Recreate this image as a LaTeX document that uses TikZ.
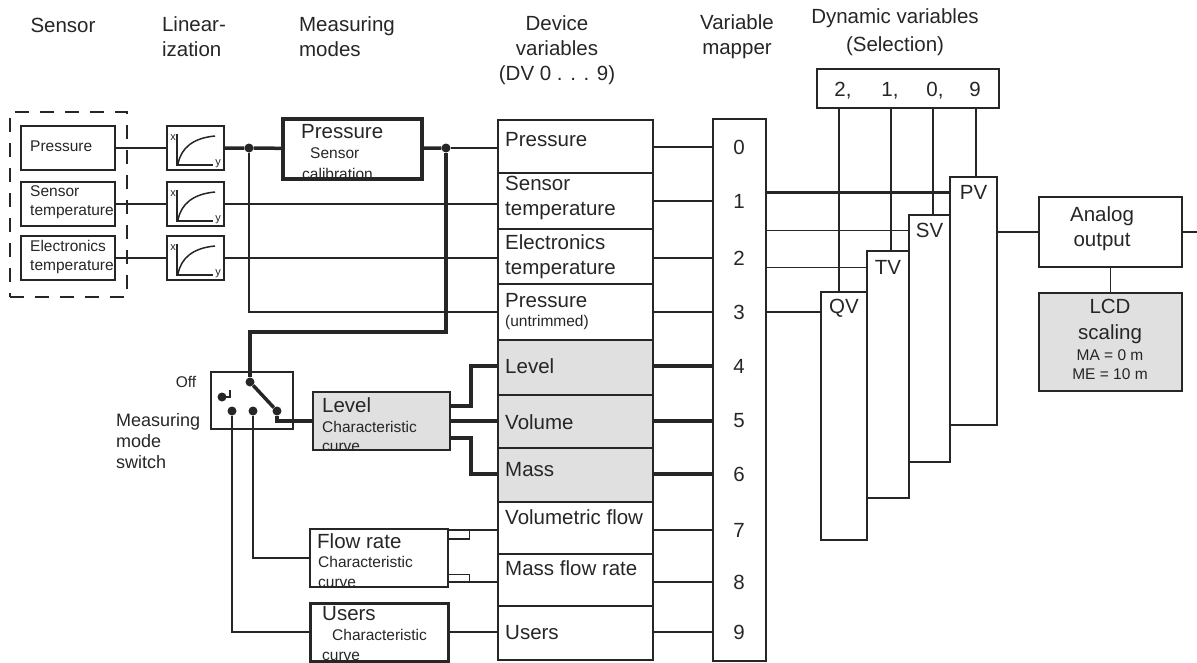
\documentclass[tikz,border=0pt]{standalone}
\usepackage{fontspec}
\setmainfont{Liberation Sans}
\usetikzlibrary{calc}
\definecolor{ink}{HTML}{262626}
\definecolor{shade}{HTML}{E0E0E0}
\begin{document}
\begin{tikzpicture}[x=1pt, y=-1pt,
    every node/.style={text=ink},
    box/.style={draw=ink, line width=1.5pt, rectangle, inner sep=0pt},
    gbox/.style={box, fill=shade},
    big/.style={font=\fontsize{20.5}{25}\selectfont, inner sep=0pt},
    mid/.style={font=\fontsize{18}{21}\selectfont, inner sep=0pt},
    small/.style={font=\fontsize{15.5}{19}\selectfont, inner sep=0pt},
    tiny/.style={font=\fontsize{11}{11}\selectfont, inner sep=0pt},
    wire/.style={draw=ink, line width=1.5pt},
    bus/.style={draw=ink, line width=3.5pt},
    dot/.style={circle, fill=ink, inner sep=0pt, minimum size=9pt},
    lin/.style={box, minimum width=57, minimum height=44, path picture={
        \coordinate (pp) at (path picture bounding box.north west);
        \draw[line width=1.5pt, ink] ($(pp)+(10pt,-8pt)$) |- ($(pp)+(46pt,-39pt)$);
        \draw[line width=1.5pt, ink] ($(pp)+(11pt,-38pt)$) .. controls ($(pp)+(14pt,-22pt)$) and ($(pp)+(26pt,-12pt)$) .. ($(pp)+(48pt,-10pt)$);
        \node[tiny] (lx) at ($(pp)+(6pt,-12pt)$) {x};
        \node[tiny] (ly) at ($(pp)+(51pt,-38pt)$) {y};
    }},
]
\useasboundingbox (0,0) rectangle (1197,662);

% Column headers
\node[big, align=center] (h-sensor) at (63,25) {Sensor};
\node[big, align=left] (h-lin) at (194,37) {Linear-\\ization};
\node[big, align=left] (h-modes) at (347,37) {Measuring\\modes};
\node[big, align=center] (h-dv) at (557,50) {Device\\variables\\(DV 0 . . . 9)};
\node[big, align=center] (h-map) at (737,37) {Variable\\mapper};
\node[big, align=center, font=\fontsize{20.5}{28}\selectfont] (h-dyn) at (895,32) {Dynamic variables\\(Selection)};

% Sensors
\node[box, dash pattern=on 14pt off 11pt, minimum width=117, minimum height=185] (grp) at (68.5,204.5) {};
\node[box, minimum width=94, minimum height=44] (s-p) at (68,148) {};
\node[box, minimum width=94, minimum height=44] (s-t) at (68,204) {};
\node[box, minimum width=94, minimum height=44] (s-e) at (68,258) {};
\node[small, anchor=west] (t-sp) at (30,146) {Pressure};
\node[small, anchor=west, align=left] (t-st) at (30,202) {Sensor\\temperature};
\node[small, anchor=west, align=left] (t-se) at (30,257) {Electronics\\temperature};

% Linearization
\node[lin] (l1) at (195.5,148) {};
\node[lin] (l2) at (195.5,204) {};
\node[lin] (l3) at (195.5,258) {};
\draw[wire] (s-p) -- (l1);
\draw[wire] (s-t) -- (l2);
\draw[wire] (s-e) -- (l3);

% Measuring modes
\node[box, line width=4pt, minimum width=139, minimum height=60] (pcal) at (352.5,149) {};
\begin{scope}
  \clip (pcal.north west) rectangle ([yshift=2pt]pcal.south east);
  \node[big, anchor=west] (t-pc1) at (301,132) {Pressure};
  \node[small, anchor=west] (t-pc2) at (310,153) {Sensor};
  \node[small, anchor=west] (t-pc3) at (302,174) {calibration};
\end{scope}
\node[dot] (d1) at (249,148) {};
\node[dot] (d2) at (446,148) {};

\node[gbox, line width=2pt, minimum width=137, minimum height=58] (lvl) at (381.5,421) {};
\begin{scope}
  \clip (lvl.north west) rectangle ([yshift=1pt]lvl.south east);
  \node[big, anchor=west] (t-lv1) at (322,405) {Level};
  \node[small, anchor=west] (t-lv2) at (322,427) {Characteristic};
  \node[small, anchor=west] (t-lv3) at (322,447) {curve};
\end{scope}

\node[box, line width=2.5pt, minimum width=138, minimum height=58] (flow) at (379,558) {};
\begin{scope}
  \clip (flow.north west) rectangle ([yshift=1pt]flow.south east);
  \node[big, anchor=west] (t-fl1) at (317,541) {Flow rate};
  \node[small, anchor=west] (t-fl2) at (318,562) {Characteristic};
  \node[small, anchor=west] (t-fl3) at (318,583) {curve};
\end{scope}

\node[box, line width=3pt, minimum width=138, minimum height=58] (usr) at (379,632) {};
\begin{scope}
  \clip (usr.north west) rectangle ([yshift=1pt]usr.south east);
  \node[big, anchor=west] (t-us1) at (322,614) {Users};
  \node[small, anchor=west] (t-us2) at (332,635) {Characteristic};
  \node[small, anchor=west] (t-us3) at (322,656) {curve};
\end{scope}

% Measuring mode switch
\node[box, minimum width=82, minimum height=57] (sw) at (252,400.5) {};
\node[dot] (piv) at (250,382) {};
\node[dot] (cq) at (277,411) {};
\node[dot] (ca) at (232,411) {};
\node[dot] (cb) at (253,411) {};
\node[dot] (coff) at (222,397) {};
\draw[wire] (coff.center) -- ++(8,0) -- ++(0,-7);
\draw[bus] (piv) -- (cq);
\node[small] (t-off) at (186,382) {Off};
\node[mid, anchor=west, align=left] (t-sw) at (116,441) {Measuring\\mode\\switch};
\coordinate (bend) at (250,332);

% Device variables
\node[box, minimum width=155, minimum height=53] (dv0) at (575.5,146.5) {};
\node[box, minimum width=155, minimum height=56] (dv1) at (575.5,201) {};
\node[box, minimum width=155, minimum height=55] (dv2) at (575.5,256.5) {};
\node[box, minimum width=155, minimum height=56] (dv3) at (575.5,312) {};
\node[gbox, minimum width=155, minimum height=55] (dv4) at (575.5,367.5) {};
\node[gbox, minimum width=155, minimum height=53] (dv5) at (575.5,421.5) {};
\node[gbox, minimum width=155, minimum height=54] (dv6) at (575.5,475) {};
\node[box, minimum width=155, minimum height=52] (dv7) at (575.5,528) {};
\node[box, minimum width=155, minimum height=52] (dv8) at (575.5,580) {};
\node[box, minimum width=155, minimum height=54] (dv9) at (575.5,633) {};
\node[big, anchor=west] (t-dv0) at (505,140) {Pressure};
\node[big, anchor=west, align=left] (t-dv1) at (505,198) {Sensor\\temperature};
\node[big, anchor=west, align=left] (t-dv2) at (505,257) {Electronics\\temperature};
\node[big, anchor=west] (t-dv3a) at (505,301) {Pressure};
\node[small, anchor=west] (t-dv3b) at (505,322) {(untrimmed)};
\node[big, anchor=west] (t-dv4) at (505,366) {Level};
\node[big, anchor=west] (t-dv5) at (505,422) {Volume};
\node[big, anchor=west] (t-dv6) at (505,470) {Mass};
\node[big, anchor=west] (t-dv7) at (505,517) {Volumetric flow};
\node[big, anchor=west] (t-dv8) at (505,568) {Mass flow rate};
\node[big, anchor=west] (t-dv9) at (505,633) {Users};

% Variable mapper
\node[box, minimum width=53, minimum height=542] (map) at (739.5,390) {};
\node[big] (m0) at (739,147) {0};
\node[big] (m1) at (739,201) {1};
\node[big] (m2) at (739,258) {2};
\node[big] (m3) at (739,312) {3};
\node[big] (m4) at (739,366) {4};
\node[big] (m5) at (739,421) {5};
\node[big] (m6) at (739,474) {6};
\node[big] (m7) at (739,530) {7};
\node[big] (m8) at (739,582) {8};
\node[big] (m9) at (739,632) {9};

% Dynamic variables
\node[box, minimum width=182, minimum height=39] (sel) at (908,88.5) {};
\node[big, anchor=base] (n2) at (843,96) {2,};
\node[big, anchor=base] (n1) at (890,96) {1,};
\node[big, anchor=base] (n0) at (935,96) {0,};
\node[big, anchor=base] (n9) at (975,96) {9};
\coordinate (k2) at (839,108);
\coordinate (k1) at (891,108);
\coordinate (k0) at (933,108);
\coordinate (k9) at (976,108);
\node[box, minimum width=47, minimum height=248] (pv) at (973.5,301) {};
\node[box, minimum width=41, minimum height=247] (sv) at (929.5,338.5) {};
\node[box, minimum width=42, minimum height=247] (tv) at (888,374.5) {};
\node[box, minimum width=46, minimum height=248] (qv) at (844,416) {};
\node[big] (t-pv) at ([yshift=-16pt]pv.north) {PV};
\node[big] (t-sv) at ([yshift=-16pt]sv.north) {SV};
\node[big] (t-tv) at ([yshift=-17pt]tv.north) {TV};
\node[big] (t-qv) at ([yshift=-17pt]qv.north) {QV};

% Outputs
\node[box, minimum width=143, minimum height=70] (ao) at (1110.5,232) {};
\node[big, align=center] (t-ao) at (1102,229) {Analog\\output};
\node[gbox, minimum width=143, minimum height=98] (lcd) at (1110.5,342) {};
\node[big, align=center, font=\fontsize{20.5}{26}\selectfont] (t-lcd) at (1110,321) {LCD\\scaling};
\node[small, align=center] (t-ma) at (1110,365) {MA = 0 m\\ME = 10 m};
\coordinate (out) at (1197,232);

% Connections
\draw[bus] (l1) -- (d1) -- (pcal);
\draw[bus] (pcal) -- (d2);
\draw[wire] (d2) -- (d2 -| dv0.west);
\draw[wire] (d1) |- (dv3.west);
\draw[wire] (l2) -- (l2 -| dv1.west);
\draw[wire] (l3) -- (l3 -| dv2.west);
\draw[bus] (d2) |- (bend) -- (piv);
\draw[bus] (cq) |- (lvl.west);
\draw[wire] (cb) |- (flow.west);
\draw[wire] (ca) |- (usr.west);
\draw[bus] ([yshift=15pt]lvl.east) -- ++(20,0) |- (dv4.west |- m4);
\draw[bus] (lvl.east) -- (lvl.east -| dv5.west);
\draw[bus] ([yshift=-17pt]lvl.east) -- ++(20,0) |- (dv6.west |- m6);
\draw[wire] (flow.east |- m7) -- (dv7.west |- m7);
\draw[wire] ([yshift=-11pt]flow.north east) -| ($(flow.east |- m7)+(20,0)$);
\draw[wire] (flow.east |- m8) -- (dv8.west |- m8);
\draw[wire] ([yshift=14pt]flow.south east) -| ($(flow.east |- m8)+(20,0)$);
\draw[wire] (usr) -- (usr -| dv9.west);

\draw[wire] (dv0.east |- m0) -- (map.west |- m0);
\draw[wire] (dv1.east |- m1) -- (map.west |- m1);
\draw[wire] (dv2.east |- m2) -- (map.west |- m2);
\draw[wire] (dv3.east |- m3) -- (map.west |- m3);
\draw[bus] (dv4.east |- m4) -- (map.west |- m4);
\draw[bus] (dv5.east |- m5) -- (map.west |- m5);
\draw[bus] (dv6.east |- m6) -- (map.west |- m6);
\draw[wire] (dv7.east |- m7) -- (map.west |- m7);
\draw[wire] (dv8.east |- m8) -- (map.west |- m8);
\draw[wire] (dv9.east |- m9) -- (map.west |- m9);

\draw[bus] (map.east |- t-pv) -- (pv.west |- t-pv);
\draw[wire] (map.east |- t-sv) -- (sv.west |- t-sv);
\draw[wire] (map.east |- t-tv) -- (tv.west |- t-tv);
\draw[wire] (map.east |- m3) -- (qv.west |- m3);
\draw[wire] (k2) -- (k2 |- qv.north);
\draw[wire] (k1) -- (k1 |- tv.north);
\draw[wire] (k0) -- (k0 |- sv.north);
\draw[wire] (k9) -- (k9 |- pv.north);

\draw[wire] (pv.east |- ao) -- (ao);
\draw[wire] (ao) -- (out);
\draw[wire] (ao) -- (lcd);
\end{tikzpicture}
\end{document}
